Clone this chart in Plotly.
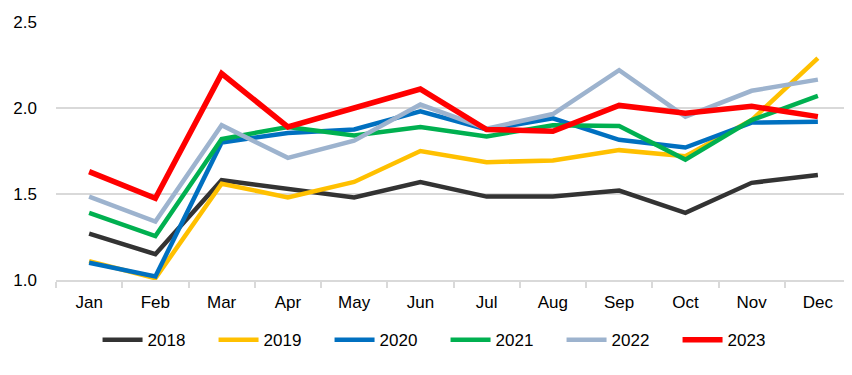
import plotly.graph_objects as go

months = ["Jan", "Feb", "Mar", "Apr", "May", "Jun", "Jul", "Aug", "Sep", "Oct", "Nov", "Dec"]
y2018 = [1.27, 1.15, 1.58, 1.53, 1.48, 1.57, 1.485, 1.485, 1.52, 1.39, 1.565, 1.61]
y2019 = [1.11, 1.01, 1.56, 1.48, 1.57, 1.75, 1.685, 1.695, 1.755, 1.72, 1.93, 2.29]
y2020 = [1.10, 1.02, 1.80, 1.855, 1.875, 1.98, 1.875, 1.94, 1.815, 1.77, 1.915, 1.92]
y2021 = [1.39, 1.255, 1.82, 1.89, 1.84, 1.89, 1.835, 1.90, 1.895, 1.70, 1.93, 2.07]
y2022 = [1.485, 1.34, 1.90, 1.71, 1.81, 2.02, 1.88, 1.965, 2.22, 1.95, 2.10, 2.165]
y2023 = [1.63, 1.475, 2.20, 1.89, 2.00, 2.11, 1.875, 1.865, 2.015, 1.97, 2.01, 1.95]

series = [
    ("2018", y2018, "#333333", 4.5),
    ("2019", y2019, "#FFC000", 4.5),
    ("2020", y2020, "#0070C0", 4.5),
    ("2021", y2021, "#00B050", 4.5),
    ("2022", y2022, "#9DB3CE", 4.5),
    ("2023", y2023, "#FF0000", 5.5),
]

fam = "Liberation Sans, Arial, sans-serif"
fig = go.Figure()
for name, ys, color, w in series:
    fig.add_trace(go.Scatter(x=months, y=ys, name=name, mode="lines",
                             line=dict(color=color, width=w)))

font = dict(family=fam, size=17, color="#000000")
fig.update_layout(
    width=852, height=375,
    margin=dict(l=48, r=9, t=14, b=103, autoexpand=False),
    paper_bgcolor="white", plot_bgcolor="white",
    font=font,
    showlegend=True,
    legend=dict(orientation="h", x=0.49, xanchor="center", y=-0.233, yanchor="middle",
                font=dict(family=fam, size=17),
                itemwidth=40, tracegroupgap=0, entrywidth=61),
    xaxis=dict(type="category", showgrid=False, showline=True, linecolor="#D9D9D9", linewidth=2,
               ticks="outside", tickson="boundaries", ticklen=6, tickcolor="#D9D9D9", tickwidth=2,
               range=[-0.5, 11.5], tickfont=font, ticklabelstandoff=6),
    yaxis=dict(range=[1.0, 2.5], tickvals=[1.0, 1.5, 2.0, 2.5], ticktext=["1.0", "1.5", "2.0", "2.5"],
               showgrid=True, gridcolor="#D9D9D9", gridwidth=2, zeroline=False, showline=False,
               ticks="", tickfont=font, ticklabelstandoff=18),
)

fig.write_html("out.html")
